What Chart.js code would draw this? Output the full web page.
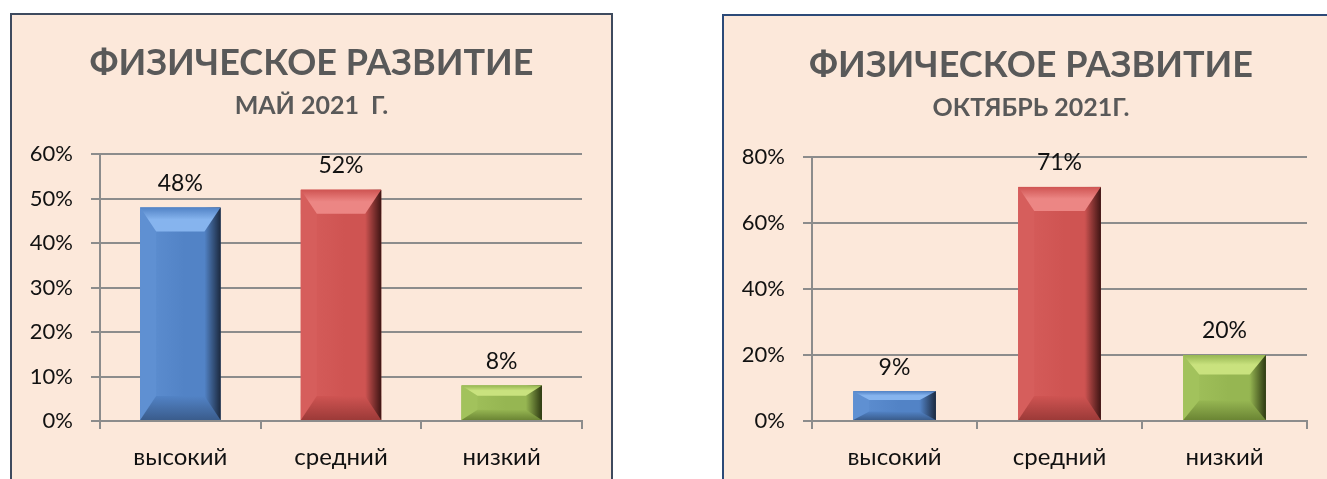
<!DOCTYPE html>
<html>
<head>
<meta charset="utf-8">
<script src="https://cdn.jsdelivr.net/npm/chart.js@4"></script>
<style>
  html, body { margin: 0; padding: 0; background: #ffffff; width: 1327px; height: 479px; overflow: hidden; }
  .box { position: absolute; background: #fce8da; box-sizing: border-box; }
  #boxA { left: 10px; top: 13px; width: 603px; height: 480px; border: 2px solid #3e4a5e; }
  #boxB { left: 722px; top: 14px; width: 620px; height: 480px; border: 2px solid #2c4a78; }
  canvas { position: absolute; }
  #cA { left: 11px; top: 14px; }
  #cB { left: 723px; top: 15px; }
</style>
</head>
<body>
<div class="box" id="boxA"></div>
<div class="box" id="boxB"></div>
<canvas id="cA" width="601" height="465"></canvas>
<canvas id="cB" width="616" height="464"></canvas>
<script>
// ---- data ----
const categories = ['высокий', 'средний', 'низкий'];
const mayValues = [48, 52, 8];
const octValues = [9, 71, 20];
const titleText = 'ФИЗИЧЕСКОЕ РАЗВИТИЕ';
const maySubtitle = 'МАЙ 2021  Г.';
const octSubtitle = 'ОКТЯБРЬ 2021Г.';
const mayTicks = { max: 60, step: 10 };
const octTicks = { max: 80, step: 20 };

// ---- styles ----
const FONT = 'Lato, "Open Sans", sans-serif';
const GRID = '#8c8c8c';
const palettes = [
  { main: '#5283c6', top: '#86b4ee', left: '#5f90d2', bottom: '#3a5c8c', right: '#1c2a40' },
  { main: '#cf5452', top: '#ec8684', left: '#d65e5c', bottom: '#9c3a38', right: '#3f1514' },
  { main: '#96b652', top: '#c9e27e', left: '#a2c25c', bottom: '#6b8534', right: '#2e3a12' }
];

const bevelPlugin = {
  id: 'bevel',
  afterDatasetsDraw(chart) {
    const ctx = chart.ctx;
    const meta = chart.getDatasetMeta(0);
    const ds = chart.data.datasets[0];
    meta.data.forEach((bar, i) => {
      const p = bar.getProps(['x', 'y', 'base', 'width'], true);
      const l = p.x - p.width / 2, r = p.x + p.width / 2, t = p.y, b = p.base;
      const h = b - t;
      const pal = palettes[i];
      const bx = Math.min(16, p.width * 0.2);
      const by = Math.min(24, h * 0.3);
      ctx.save();
      let g = ctx.createLinearGradient(l, 0, r, 0);
      g.addColorStop(0, pal.left);
      g.addColorStop(0.55, pal.main);
      g.addColorStop(0.8, pal.main);
      g.addColorStop(1, pal.right);
      ctx.fillStyle = g;
      ctx.fillRect(l, t, r - l, h);
      ctx.beginPath();
      ctx.moveTo(l, t); ctx.lineTo(l + bx, t + by); ctx.lineTo(l + bx, b - by); ctx.lineTo(l, b); ctx.closePath();
      ctx.fillStyle = pal.left; ctx.fill();
      g = ctx.createLinearGradient(r - bx, 0, r, 0);
      g.addColorStop(0, pal.main);
      g.addColorStop(1, pal.right);
      ctx.beginPath();
      ctx.moveTo(r, t); ctx.lineTo(r - bx, t + by); ctx.lineTo(r - bx, b - by); ctx.lineTo(r, b); ctx.closePath();
      ctx.fillStyle = g; ctx.fill();
      g = ctx.createLinearGradient(0, t, 0, t + by);
      g.addColorStop(0, pal.main);
      g.addColorStop(0.5, pal.top);
      g.addColorStop(1, pal.top);
      ctx.beginPath();
      ctx.moveTo(l, t); ctx.lineTo(r, t); ctx.lineTo(r - bx, t + by); ctx.lineTo(l + bx, t + by); ctx.closePath();
      ctx.fillStyle = g; ctx.fill();
      g = ctx.createLinearGradient(0, b - by, 0, b);
      g.addColorStop(0, pal.main);
      g.addColorStop(1, pal.bottom);
      ctx.beginPath();
      ctx.moveTo(l, b); ctx.lineTo(r, b); ctx.lineTo(r - bx, b - by); ctx.lineTo(l + bx, b - by); ctx.closePath();
      ctx.fillStyle = g; ctx.fill();
      ctx.restore();
      ctx.save();
      ctx.font = '23px ' + FONT;
      ctx.fillStyle = '#111111';
      ctx.textAlign = 'center';
      ctx.textBaseline = 'middle';
      ctx.fillText(ds.data[i] + '%', p.x, t - 24);
      ctx.restore();
    });
  }
};

function makeChart(id, values, subtitle, tk, layout) {
  return new Chart(document.getElementById(id), {
    type: 'bar',
    data: {
      labels: categories,
      datasets: [{
        data: values,
        backgroundColor: palettes.map(p => p.main),
        borderWidth: 0,
        categoryPercentage: 1,
        barPercentage: 0.5
      }]
    },
    options: {
      responsive: false,
      animation: false,
      layout: { padding: 0 },
      plugins: {
        legend: { display: false },
        tooltip: { enabled: false },
        title: {
          display: true, text: titleText, color: '#595959',
          font: { family: FONT, size: 36, weight: 'bold' },
          padding: { top: layout.titleTop, bottom: 0 }
        },
        subtitle: {
          display: true, text: subtitle, color: '#595959',
          font: { family: FONT, size: 25, weight: 'bold' },
          padding: { top: layout.subTop, bottom: layout.subBottom }
        }
      },
      scales: {
        x: {
          grid: { drawOnChartArea: false, drawTicks: true, tickLength: 8, color: GRID, lineWidth: 2, offset: true },
          border: { display: true, color: GRID, width: 2 },
          ticks: { color: '#111111', font: { family: FONT, size: 24 }, padding: 14 },
          afterFit(s) { s.height = layout.xHeight; }
        },
        y: {
          min: 0, max: tk.max,
          grid: { color: GRID, lineWidth: 2, tickLength: 9 },
          border: { display: true, color: GRID, width: 2 },
          ticks: { stepSize: tk.step, color: '#111111', font: { family: FONT, size: 22 }, padding: 18,
                   callback: v => v + '%' },
          afterFit(s) { s.width = 89; }
        },
        spacer: {
          type: 'linear', position: 'right', min: 0, max: tk.max,
          grid: { display: false }, border: { display: false }, ticks: { display: false },
          afterFit(s) { s.width = layout.right; }
        }
      }
    },
    plugins: [bevelPlugin]
  });
}

makeChart('cA', mayValues, maySubtitle, mayTicks, { right: 30, titleTop: 28, subTop: 6, subBottom: 33, xHeight: 58 });
makeChart('cB', octValues, octSubtitle, octTicks, { right: 32, titleTop: 29, subTop: 6, subBottom: 34, xHeight: 58 });
</script>
</body>
</html>
